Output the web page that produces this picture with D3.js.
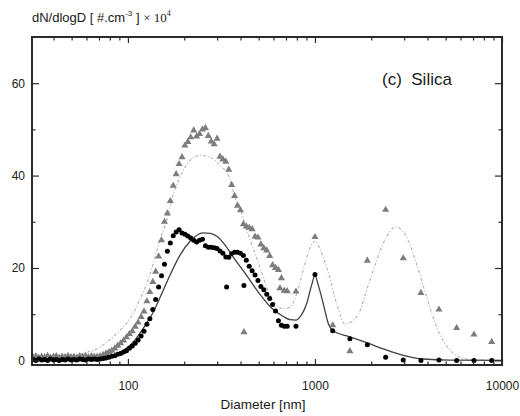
<!DOCTYPE html>
<html>
<head>
<meta charset="utf-8">
<script src="https://cdn.jsdelivr.net/npm/d3@7"></script>
<style>
  html, body { margin: 0; padding: 0; background: #fff; }
  svg { display: block; font-family: "Liberation Sans", Arial, sans-serif; }
</style>
</head>
<body>
<svg id="chart" width="520" height="416"></svg>
<script>
// Mobility-size channels (nm), measured spectra and fits
const smpsDiameters = [31.1, 32.2, 33.4, 34.6, 35.9, 37.2, 38.5, 40.0, 41.4, 42.9, 44.5, 46.1, 47.8, 49.6,
  51.4, 53.3, 55.2, 57.3, 59.4, 61.5, 63.8, 66.1, 68.5, 71.0, 73.7, 76.4, 79.1, 82.0, 85.1, 88.2, 91.4,
  94.7, 98.2, 101.8, 105.5, 109.4, 113.4, 117.6, 121.9, 126.3, 131.0, 135.8, 140.7, 145.9, 151.2, 156.8,
  162.5, 168.5, 174.7, 181.1, 187.7, 194.6, 201.7, 209.1, 216.7, 224.7, 232.9, 241.4, 250.3, 259.5,
  269.0, 278.8, 289.0, 299.6, 310.6, 322.0, 333.8, 346.0, 358.7, 371.8, 385.4, 399.5, 414.2, 429.4,
  445.1, 461.4, 478.3, 495.8, 514.0, 532.8, 552.3, 572.5, 593.5, 615.3, 637.8, 661.2, 685.4, 710.5, 791.5];

// grey triangles: total spectrum
const smpsTriangles = [0.7, 0.9, 0.6, 0.8, 0.7, 1.0, 0.6, 0.8, 0.9, 0.6, 0.8, 0.7, 1.0, 0.7,
  0.8, 0.6, 0.9, 0.8, 1.0, 0.7, 0.9, 0.8, 0.8, 0.9, 1.2, 1.5, 1.8, 2.1, 2.6, 3.2, 3.7,
  4.3, 5.0, 5.7, 6.3, 7.3, 8.2, 9.4, 10.6, 12.8, 14.8, 17.0, 19.2, 22.5, 26.0, 30.0,
  31.8, 34.5, 37.8, 40.3, 42.5, 44.0, 46.5, 47.3, 48.3, 49.8, 48.5, 49.0, 50.0, 50.3,
  48.6, 47.4, 46.8, 48.0, 44.1, 43.5, 43.0, 41.3, 38.0, 35.6, 33.5, 32.5, 29.5, 29.0,
  28.7, 28.4, 26.8, 26.6, 25.1, 24.3, 23.8, 22.6, 20.6, 20.0, 19.6, 17.8, 15.1, 15.0, 14.9];

// black dots: silica spectrum
const smpsDots = [0.2, 0.0, 0.3, 0.1, 0.2, 0.0, 0.3, 0.1, 0.2, 0.0, 0.2, 0.1, 0.3, 0.1,
  0.2, 0.1, 0.3, 0.2, 0.1, 0.3, 0.2, 0.3, 0.2, 0.3, 0.4, 0.5, 0.7, 0.9, 1.0, 1.3, 1.5,
  1.8, 2.1, 2.6, 3.1, 3.7, 4.4, 5.3, 6.3, 7.8, 9.0, 11.0, 13.2, 15.9, 18.3, 20.8,
  23.6, 25.4, 27.0, 27.8, 28.3, 27.6, 27.3, 26.9, 26.5, 26.0, 25.6, 26.0, 26.2, 24.8,
  24.5, 24.5, 24.4, 24.2, 23.7, 23.2, 22.4, 22.3, 23.1, 23.4, 23.4, 23.2, 22.7, 21.7,
  20.4, 19.4, 18.5, 17.3, 16.0, 15.3, 14.3, 13.4, 12.1, 10.7, 8.6, 7.6, 7.4, 7.4, 7.4];

// isolated readings
const strayDiameters = [337, 417];
const strayDots = [15.9, 16.2];
const strayTriangleDiameters = [417, 649.7];
const strayTriangles = [6.1, 15.6];

// aerodynamic-size channels (nm)
const apsDiameters = [1000, 1244, 1537, 1905, 2387, 2965, 3685, 4603, 5722, 7083, 8810];
const apsTriangles = [26.7, 7.6, 2.0, 21.6, 32.6, 22.1, 14.6, 11.0, 7.0, 5.6, 4.0];
const apsDots = [18.6, 6.4, 4.7, 3.4, 0.7, 0.1, 0.0, 0.1, 0.0, 0.0, 0.0];

// lognormal fit to the silica spectrum (solid)
const fitSilicaD = [30.7, 49, 70.8, 85.2, 96.4, 109, 123, 136, 148, 168, 190, 215, 252, 275, 300, 330,
  365, 431, 508, 598, 677, 735, 792, 832, 903, 963, 1000, 1038, 1107, 1178, 1250, 1537, 1900, 2317,
  2965, 3793, 5269, 10000];
const fitSilica = [0.0, 0.05, 0.4, 1.2, 2.4, 4.4, 7.4, 10.3, 13.5, 18.5, 22.8, 25.8, 27.6, 27.5, 26.8, 25.0,
  22.4, 18.4, 14.3, 11.0, 9.5, 8.8, 8.7, 9.4, 12.3, 16.5, 18.4, 16.5, 12.3, 8.0, 6.4, 5.1, 3.8, 2.5,
  1.1, 0.3, 0.05, 0.0];

// lognormal fit to the total spectrum (dotted)
const fitTotalD = [30.7, 43.3, 57.5, 68.3, 80, 90.6, 102.5, 115.9, 131, 148, 163, 175, 190, 215, 243,
  275, 311, 348, 373, 397, 425, 458, 508, 570, 677, 735, 800, 865, 930, 1000, 1070, 1154, 1306, 1446,
  1670, 1966, 2317, 2711, 3090, 3493, 3955, 4474, 5269, 6475, 9360, 10000];
const fitTotal = [0.1, 0.4, 1.5, 2.5, 4.5, 6.5, 9.0, 13.2, 18.5, 26.0, 31.0, 36.0, 39.7, 43.3, 44.4,
  44.0, 42.2, 39.7, 35.3, 33.2, 28.9, 25.3, 20.2, 14.4, 11.2, 11.5, 14.5, 19.5, 23.8, 25.8, 23.8, 20.2, 12.3, 7.9,
  9.4, 17.3, 25.3, 28.9, 26.7, 20.9, 13.7, 7.2, 2.2, 0.3, 0.0, 0.0];

const xMajor = [100, 1000, 10000];
const xMinor = [40, 50, 60, 70, 80, 90, 200, 300, 400, 500, 600, 700, 800, 900,
  2000, 3000, 4000, 5000, 6000, 7000, 8000, 9000];
const yMajor = [0, 20, 40, 60];
const yMinor = [10, 30, 50];

const svg = d3.select("#chart");
const frame = { left: 32, right: 502, top: 37, bottom: 365 };

const x = d3.scaleLog().domain([30.7, 10000]).range([frame.left, frame.right]);
const y = d3.scaleLinear().domain([-1, 70]).range([frame.bottom, frame.top]);

svg.append("clipPath").attr("id", "plotclip").append("rect")
  .attr("x", frame.left).attr("y", frame.top)
  .attr("width", frame.right - frame.left).attr("height", frame.bottom - frame.top);
const plot = svg.append("g").attr("clip-path", "url(#plotclip)");

const line = d3.line().x(d => x(d[0])).y(d => y(d[1])).curve(d3.curveMonotoneX);

// dotted total fit
plot.append("path")
  .datum(d3.zip(fitTotalD, fitTotal))
  .attr("d", line)
  .attr("fill", "none")
  .attr("stroke", "#b0b0b0")
  .attr("stroke-width", 1.1)
  .attr("stroke-dasharray", "3,2,1,2");

// solid silica fit
plot.append("path")
  .datum(d3.zip(fitSilicaD, fitSilica))
  .attr("d", line)
  .attr("fill", "none")
  .attr("stroke", "#404040")
  .attr("stroke-width", 1.3);

// triangles
const tri = d3.symbol().type(d3.symbolTriangle).size(22);
const triData = d3.zip(smpsDiameters, smpsTriangles)
  .concat(d3.zip(strayTriangleDiameters, strayTriangles))
  .concat(d3.zip(apsDiameters, apsTriangles));
plot.append("g").selectAll("path")
  .data(triData)
  .join("path")
  .attr("d", tri)
  .attr("transform", d => `translate(${x(d[0])},${y(d[1])})`)
  .attr("fill", "#7d7d7d");

// dots
const dotData = d3.zip(smpsDiameters, smpsDots)
  .concat(d3.zip(strayDiameters, strayDots))
  .concat(d3.zip(apsDiameters, apsDots));
plot.append("g").selectAll("circle")
  .data(dotData)
  .join("circle")
  .attr("cx", d => x(d[0]))
  .attr("cy", d => y(d[1]))
  .attr("r", 2.5)
  .attr("fill", "#000");

// axes: inward ticks on all four sides
const axisColor = "#2b2b2b";
function styleAxis(g) {
  g.select(".domain").remove();
  g.selectAll(".tick line").attr("stroke", axisColor).attr("stroke-width", 1.2);
  g.selectAll(".tick text").attr("fill", "#1a1a1a").attr("font-size", 12)
    .attr("font-family", "Liberation Sans, Arial, sans-serif");
}

svg.append("g").attr("transform", `translate(0,${frame.bottom})`)
  .call(d3.axisBottom(x).tickValues(xMajor).tickSize(-6).tickPadding(16).tickFormat(d3.format("d")))
  .call(styleAxis);
svg.append("g").attr("transform", `translate(0,${frame.bottom})`)
  .call(d3.axisBottom(x).tickValues(xMinor).tickSize(-3.5).tickFormat(""))
  .call(styleAxis);
svg.append("g").attr("transform", `translate(0,${frame.top})`)
  .call(d3.axisTop(x).tickValues(xMajor).tickSize(-6).tickFormat(""))
  .call(styleAxis);
svg.append("g").attr("transform", `translate(0,${frame.top})`)
  .call(d3.axisTop(x).tickValues(xMinor).tickSize(-3.5).tickFormat(""))
  .call(styleAxis);

svg.append("g").attr("transform", `translate(${frame.left},0)`)
  .call(d3.axisLeft(y).tickValues(yMajor).tickSize(-7).tickPadding(7).tickFormat(d3.format("d")))
  .call(styleAxis);
svg.append("g").attr("transform", `translate(${frame.left},0)`)
  .call(d3.axisLeft(y).tickValues(yMinor).tickSize(-3.5).tickFormat(""))
  .call(styleAxis);
svg.append("g").attr("transform", `translate(${frame.right},0)`)
  .call(d3.axisRight(y).tickValues(yMajor).tickSize(-7).tickFormat(""))
  .call(styleAxis);
svg.append("g").attr("transform", `translate(${frame.right},0)`)
  .call(d3.axisRight(y).tickValues(yMinor).tickSize(-3.5).tickFormat(""))
  .call(styleAxis);

// frame
svg.append("rect")
  .attr("x", frame.left).attr("y", frame.top)
  .attr("width", frame.right - frame.left).attr("height", frame.bottom - frame.top)
  .attr("fill", "none").attr("stroke", axisColor).attr("stroke-width", 2);

// x title
svg.append("text")
  .attr("x", (frame.left + frame.right) / 2 - 4).attr("y", 409)
  .attr("text-anchor", "middle")
  .attr("font-size", 13.5).attr("fill", "#1a1a1a")
  .text("Diameter [nm]");

// y title
const yt = svg.append("text").attr("x", 32).attr("y", 22)
  .attr("font-size", 13).attr("fill", "#1a1a1a");
yt.append("tspan").text("dN/dlogD [ #.cm");
yt.append("tspan").attr("font-size", 8).attr("dy", -6).text("-3");
yt.append("tspan").attr("dy", 6).text(" ] ");
yt.append("tspan").attr("font-family", "Liberation Serif, Times New Roman, serif").text("× 10");
yt.append("tspan").attr("font-family", "Liberation Serif, Times New Roman, serif")
  .attr("font-size", 8).attr("dy", -6).text("4");

// panel label
svg.append("text")
  .attr("x", 382).attr("y", 85)
  .attr("font-size", 17).attr("fill", "#1a1a1a")
  .attr("xml:space", "preserve")
  .text("(c)  Silica");
</script>
</body>
</html>
